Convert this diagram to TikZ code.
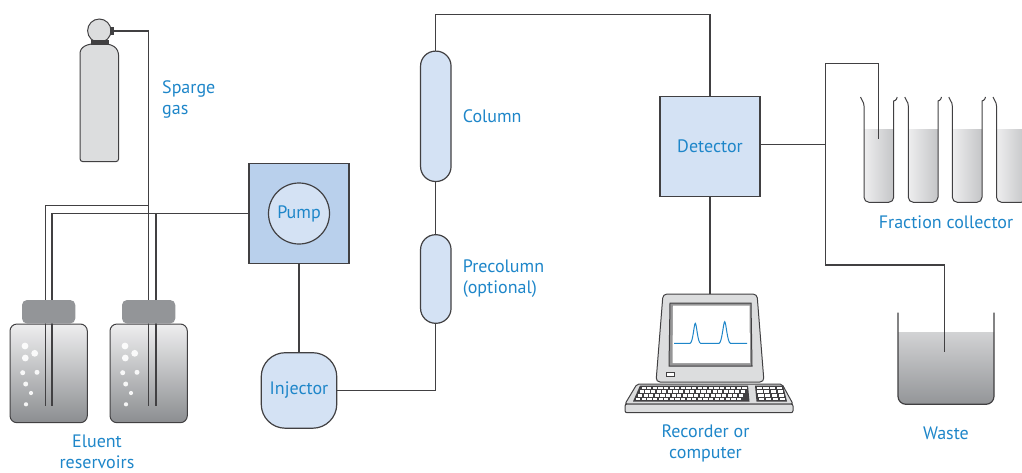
\documentclass[tikz,border=0pt]{standalone}
\usepackage{fontspec}
\setmainfont{PT Sans}
\usetikzlibrary{positioning}
\definecolor{pipe}{HTML}{414042}
\definecolor{txtblue}{HTML}{1E86C9}
\definecolor{boxblue}{HTML}{D4E2F4}
\definecolor{pumpblue}{HTML}{B9D0EC}
\definecolor{metal}{HTML}{DCDDDE}
\definecolor{capgray}{HTML}{939598}
\definecolor{liqlight}{HTML}{EEEEEF}
\definecolor{liqdark}{HTML}{C4C5C7}
\definecolor{wastedark}{HTML}{939598}
\tikzstyle{unit} = [draw=pipe, line width=1.2pt, fill=boxblue, text=txtblue,
font=\fontsize{18}{18}\selectfont, inner sep=0pt]
\tikzstyle{pumpbox} = [unit, rectangle, fill=pumpblue, minimum size=100pt]
\tikzstyle{pumphead} = [unit, circle, minimum size=61pt]
\tikzstyle{capsule} = [unit, rectangle, rounded corners=15pt, minimum width=30.5pt]
\tikzstyle{caption} = [text=txtblue, font=\fontsize{18}{21}\selectfont,
inner sep=0pt, align=center]
\tikzstyle{tubing} = [draw=pipe, line width=1.2pt]
\tikzstyle{shell} = [draw=pipe, line width=1pt]

% eluent bottle body with gas bubbles, #1 = left edge
\newcommand{\bottle}[1]{ %
  \shadedraw[shell, top color=liqlight, bottom color=capgray!95!black,
    rounded corners=7pt] (#1,324) rectangle (#1+77.3,422.7);
  \foreach \bx/\by/\br in {15/346/3.4, 24.7/353.3/3.4, 15.3/358/3.4,
    12.7/372.7/2.5, 27/372.3/2.5, 15.7/384/2.5, 21/393/2.1, 16/404.3/2.1} {
    \fill[white, opacity=0.9] (#1+\bx,\by) circle[radius=\br];
  }
}
\newcommand{\bottlecap}[1]{ %
  \fill[capgray, rounded corners=5pt] (#1+12,300) rectangle (#1+65.3,323.5);
}
% collector test tube, #1 = left wall
\newcommand{\testtube}[1]{ %
  \begin{scope}
    \clip (#1-1,129) rectangle (#1+31,210);
    \shade[left color=liqlight, right color=liqdark, rounded corners=5pt]
      (#1,90) -- (#1,202.3) -- (#1+29.7,202.3) -- (#1+29.7,90) -- cycle;
  \end{scope}
  \draw[shell] (#1-3.5,97) .. controls (#1-3,100.5) and (#1,101) .. (#1,106)
    [rounded corners=5pt] -- (#1,202.3) -- (#1+29.7,202.3) -- (#1+29.7,106)
    [sharp corners] .. controls (#1+29.7,101) and (#1+32.7,100.5) .. (#1+33.2,97);
}

\begin{document}
\begin{tikzpicture}[x=1pt, y=-1pt]
  \useasboundingbox (0,0) rectangle (1022,472);

  % gas cylinder
  \filldraw[shell, fill=metal] (80,57) .. controls (80,47) and (86,43.5) .. (99.3,43.5)
    .. controls (112.7,43.5) and (118.7,47) .. (118.7,57)
    [rounded corners=3pt] -- (118.7,161.7) -- (80,161.7) -- cycle;
  \filldraw[shell, fill=metal] (99.3,30.7) circle[radius=11.7];
  \fill[pipe] (90.7,40) rectangle (108.7,44.5);
  \fill[pipe] (109.5,27) rectangle (114,35);
  \coordinate (valve) at (114,31);
  \node[caption, anchor=west, align=left] (sparge) at (162,99) {Sparge\\gas};

  % reservoirs
  \bottle{10}
  \bottle{110}
  \coordinate (b1g) at (45.7,405.7);
  \coordinate (b1e) at (52,405.7);
  \coordinate (b2g) at (148.3,405.7);
  \coordinate (b2e) at (156,405.7);
  \coordinate (gtee) at (148.3,205.7);
  \coordinate (etee) at (156,213.5);
  \node[caption] (eluent) at (97,452) {Eluent\\reservoirs};

  % pump and injector
  \node[pumpbox] (pump) at (299,213.5) {};
  \node[pumphead] (head) at (pump) {Pump};
  \node[unit, rounded corners=24pt, minimum size=75.5pt, below=88pt of pump] (inj) {Injector};

  % columns and detector
  \node[capsule, minimum height=88.6pt] (pcol) at (435.8,279) {};
  \node[capsule, minimum height=130.4pt, above=52pt of pcol] (col) {};
  \node[caption, right=11pt of col] (collbl) {Column};
  \node[caption, right=11pt of pcol, align=left] (pcollbl) {Precolumn\\(optional)};
  \node[unit, rectangle, minimum size=100pt] (det) at (710,146.7) {Detector};
  \coordinate (loop) at (710,14.7);

  % fraction collector and waste
  \testtube{864}
  \testtube{908.3}
  \testtube{952.3}
  \testtube{996.5}
  \node[caption] (fraclbl) at (946,222) {Fraction collector};
  \begin{scope}
    \clip (890,332) rectangle (1000,410);
    \shade[top color=liqlight, bottom color=wastedark, rounded corners=8pt]
      (898,300) -- (898,404.3) -- (994,404.3) -- (994,300) -- cycle;
  \end{scope}
  \draw[tubing, rounded corners=8pt] (898,312.7) -- (898,404.3) -- (994,404.3) -- (994,312.7);
  \node[caption] (wastelbl) at (946,433) {Waste};
  \coordinate (tee) at (825.5,144.3);
  \coordinate (fctop) at (825.5,63.7);
  \coordinate (wtee) at (825.5,265);
  \coordinate (fcdip) at (878.7,138.7);
  \coordinate (wdip) at (944.3,351.7);

  % recorder
  \filldraw[shell, fill=metal, rounded corners=4pt] (710,294) -- (757,294) -- (764,382)
    -- (656,382) -- (663,294) -- cycle;
  \filldraw[shell, fill=pipe!55] (670,303) -- (751,303) -- (752,366) -- (669,366) -- cycle;
  \fill[white] (673,305.5) -- (749.5,305.5) -- (750,363) -- (672.5,363) -- cycle;
  \draw[txtblue, line width=1pt] (674,343.3) -- (690,343.3)
    .. controls (693,343) and (694,323.3) .. (695.3,323.3)
    .. controls (696.6,323.3) and (697.6,343) .. (700.6,343.3) -- (719,343.3)
    .. controls (722,343) and (723.4,321.7) .. (724.7,321.7)
    .. controls (726,321.7) and (727.4,343) .. (730.4,343.3) -- (747,343.3);
  \filldraw[shell, fill=white, line width=0.8pt] (666,372) rectangle (674,376.5);
  \filldraw[shell, fill=metal, rounded corners=2pt] (637,384) -- (782,384) -- (793,404)
    -- (625,404) -- cycle;
  \filldraw[shell, fill=metal, rounded corners=2pt] (625,404) rectangle (793,412.7);
  \fill[pipe] (640,385.5) -- (748,385.5) -- (749.5,401.5) -- (633,401.5) -- cycle;
  \fill[pipe] (755,385.5) -- (783,385.5) -- (787,401.5) -- (756.5,401.5) -- cycle;
  \foreach \r in {0,...,3} {
    \foreach \c in {0,...,18}
      \fill[white] (641.5-\r*1.8+\c*5.6,386.6+\r*3.8) rectangle ++(4.3,2.4);
    \foreach \c in {0,...,3}
      \fill[white] (756.5+\r*0.9+\c*6.8,386.6+\r*3.8) rectangle ++(5.2,2.4);
  }
  \coordinate (montop) at (710,294);
  \node[caption] (rec) at (705.5,443.5) {Recorder or\\computer};

  % tubing
  \draw[tubing] (valve) -| (b2g);
  \draw[tubing] (gtee) -| (b1g);
  \draw[tubing] (pump.west) -| (b1e);
  \draw[tubing] (etee) -- (b2e);
  \bottlecap{10}
  \bottlecap{110}
  \draw[tubing] (pump.south) -- (inj.north);
  \draw[tubing] (inj.east) -| (pcol.south);
  \draw[tubing] (pcol.north) -- (col.south);
  \draw[tubing] (col.north) |- (loop) -- (det.north);
  \draw[tubing] (det.south) -- (montop);
  \draw[tubing] (det.east |- tee) -- (tee);
  \draw[tubing] (fcdip) |- (fctop) -- (wtee) -| (wdip);
\end{tikzpicture}
\end{document}
